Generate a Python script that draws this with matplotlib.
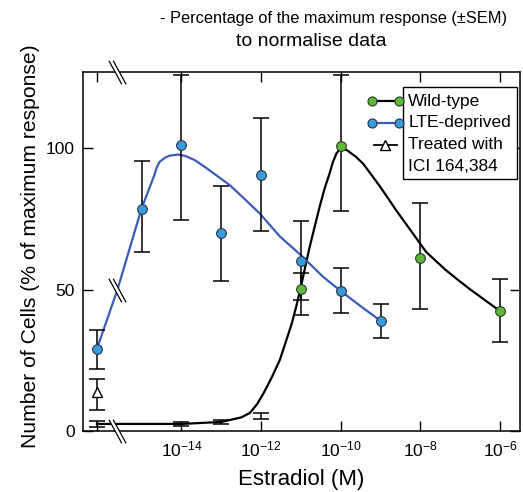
import numpy as np
import matplotlib
matplotlib.use('Agg')
import matplotlib.pyplot as plt
from matplotlib.path import Path
from matplotlib.patches import Rectangle

plt.rcParams['font.family'] = ['Liberation Sans', 'DejaVu Sans']
plt.rcParams['mathtext.fontset'] = 'custom'
plt.rcParams['mathtext.rm'] = 'Liberation Sans'
plt.rcParams['mathtext.default'] = 'regular'

## data (control / no estradiol drawn left of the axis break)
ctrl = 10**-16.12
brk = 10**-15.61

# wild-type
wt_conc = [ctrl, 1e-14, 1e-13, 1e-12, 1e-11, 1e-10, 1e-8, 1e-6]
wt_mean = [2.5, 2.5, 3.2, 5.3, 50.2, 100.7, 61.2, 42.4]
wt_lo = [1.0, 0.8, 0.8, 1.1, 9.3, 22.9, 18.1, 11.0]
wt_hi = [1.0, 0.8, 0.8, 1.1, 5.7, 25.1, 19.5, 11.2]

# LTE-deprived
lte_conc = [ctrl, 1e-15, 1e-14, 1e-13, 1e-12, 1e-11, 1e-10, 1e-9]
lte_mean = [29.1, 78.7, 101.0, 70.1, 90.7, 60.2, 49.6, 39.0]
lte_lo = [7.0, 15.3, 26.4, 17.1, 20.0, 14.0, 7.8, 6.1]
lte_hi = [6.8, 16.8, 24.8, 16.6, 20.0, 14.0, 8.2, 5.8]

# ICI 164,384 treated
ici_conc = [ctrl]
ici_mean = [13.8]
ici_lo = [6.4]
ici_hi = [4.6]

# fitted curves (log10 conc, % response)
wt_fit_logx = [-16.12, -15, -14, -13, -12.5, -12.28, -12.1, -11.94, -11.73, -11.53, -11.38,
               -11.23, -11.1, -11.0, -10.9, -10.78, -10.65, -10.53, -10.4, -10.28, -10.2,
               -10.11, -10.0, -9.83, -9.62, -9.44, -9.25, -9.03, -8.82, -8.61, -8.4, -8.19,
               -7.86, -7.6, -7.36, -7.07, -6.78, -6.4, -6.0]
wt_fit_y = [2.5, 2.5, 2.5, 3.2, 4.8, 6.4, 9.5, 13.3, 19.0, 25.1, 31.5,
            38.0, 45.0, 51.0, 57.5, 65.1, 72.5, 79.3, 86.0, 91.1, 95.0,
            98.1, 100.3, 99.2, 97.0, 94.6, 91.0, 86.8, 82.5, 78.1, 74.0, 69.9,
            63.4, 60.0, 56.9, 53.6, 50.4, 46.5, 42.4]
lte_fit_logx = [-16.12, -15.61, -15.0, -14.68, -14.62, -14.55, -14.41, -14.3, -14.08, -13.9,
                -13.66, -13.4, -13.07, -12.78, -12.40, -12.03, -11.52, -11.0, -10.44,
                -9.97, -9.43, -9.0]
lte_fit_y = [29.1, 49.8, 78.7, 90.5, 93.2, 95.2, 96.7, 97.4, 97.8, 97.3,
             95.8, 93.3, 89.9, 86.9, 81.9, 76.9, 68.7, 62.2, 54.5,
             49.2, 43.4, 39.0]

xtick_pos = [ctrl, 1e-14, 1e-12, 1e-10, 1e-8, 1e-6]
xtick_lab = ['', '$10^{-14}$', '$10^{-12}$', '$10^{-10}$', '$10^{-8}$', '$10^{-6}$']

green = '#5cb83c'
blue_pt = '#3b9ad8'
blue_ln = '#3a5cb8'

## figure
fig = plt.figure(figsize=(5.23, 4.92), dpi=100)
ax = fig.add_axes([83/523, 61/492, 437/523, 359/492])
ax.set_xscale('log')
ax.set_xlim(10**-16.47, 10**-5.5)
ax.set_ylim(0, 127)

# curves
ax.plot(10**np.array(wt_fit_logx), wt_fit_y, color='black', lw=1.6, zorder=2)
ax.plot(10**np.array(lte_fit_logx), lte_fit_y, color=blue_ln, lw=1.6, zorder=2)

# error bars
ekw = dict(fmt='none', ecolor='black', elinewidth=1.1, capsize=5.5, capthick=1.1, zorder=3)
ax.errorbar(wt_conc, wt_mean, yerr=[wt_lo, wt_hi], **ekw)
ax.errorbar(lte_conc, lte_mean, yerr=[lte_lo, lte_hi], **ekw)
ax.errorbar(ici_conc, ici_mean, yerr=[ici_lo, ici_hi], **ekw)

# markers (wild-type low points hidden under the line)
wt_show = [i for i in range(len(wt_mean)) if wt_mean[i] > 10]
ax.plot([wt_conc[i] for i in wt_show], [wt_mean[i] for i in wt_show], 'o', ms=7,
        mfc=green, mec='#2a3a20', mew=0.8, zorder=4)
ax.plot(lte_conc, lte_mean, 'o', ms=7, mfc=blue_pt, mec='#1e3550', mew=0.8, zorder=4)
ax.plot(ici_conc, ici_mean, '^', ms=7, mfc='white', mec='black', mew=1.0, zorder=4)

# axis break marks
fill_path = Path([(-0.727, 1), (-0.364, 1), (0.727, -1), (0.364, -1), (-0.727, 1)])
line_path = Path([(-0.727, 1), (0.364, -1), (-0.364, 1), (0.727, -1)],
                 [Path.MOVETO, Path.LINETO, Path.MOVETO, Path.LINETO])
for yb in [0, 127, 49.8]:
    ax.plot([brk], [yb], marker=fill_path, ms=17, mfc='white', mec='none', clip_on=False, zorder=6)
    ax.plot([brk], [yb], marker=line_path, ms=17, mfc='none', mec='black', mew=0.9, clip_on=False, zorder=7)

# ticks
ax.set_xticks(xtick_pos)
ax.set_xticklabels(xtick_lab)
ax.xaxis.set_minor_locator(matplotlib.ticker.NullLocator())
ax.set_yticks([0, 50, 100])
ax.tick_params(direction='in', length=7, width=1.0, top=True, right=True, labelsize=12.5, pad=6)
for s in ax.spines.values():
    s.set_linewidth(1.1)

ax.set_xlabel('Estradiol (M)', fontsize=16)
ax.set_ylabel('Number of Cells (% of maximum response)', fontsize=15.2)
ax.xaxis.set_label_coords(0.5, -0.105)
ax.yaxis.set_label_coords(-0.098, 0.515)

# legend (handles drawn outside the box)
ax.add_patch(Rectangle((0.732, 0.702), 0.261, 0.256, transform=ax.transAxes,
                       facecolor='white', edgecolor='black', lw=1.0, zorder=8))
leg_rows = [0.919, 0.858, 0.797, 0.738]
leg_text = ['Wild-type', 'LTE-deprived', 'Treated with', 'ICI 164,384']
for yy, tt in zip(leg_rows, leg_text):
    ax.text(0.744, yy, tt, transform=ax.transAxes, fontsize=12.5, va='center', ha='left', zorder=9)
ax.plot([0.661, 0.723], [0.919, 0.919], '-o', color='black', lw=1.6, ms=6.5,
        mfc=green, mec='#2a3a20', mew=0.8, transform=ax.transAxes, clip_on=False, zorder=9)
ax.plot([0.661, 0.723], [0.858, 0.858], '-o', color=blue_ln, lw=1.6, ms=6.5,
        mfc=blue_pt, mec='#1e3550', mew=0.8, transform=ax.transAxes, clip_on=False, zorder=9)
ax.plot([0.666, 0.718], [0.797, 0.797], '-', color='black', lw=1.3,
        transform=ax.transAxes, clip_on=False, zorder=9)
ax.plot([0.692], [0.797], '^', ms=6.5, mfc='white', mec='black', mew=1.0,
        transform=ax.transAxes, clip_on=False, zorder=10)

# title text
fig.text(334/523, 1 - 18/492, '- Percentage of the maximum response (\u00b1SEM)',
         ha='center', va='center', fontsize=11.8)
fig.text(311/523, 1 - 41/492, 'to normalise data', ha='center', va='center', fontsize=14)

fig.savefig('out.png', dpi=100)
